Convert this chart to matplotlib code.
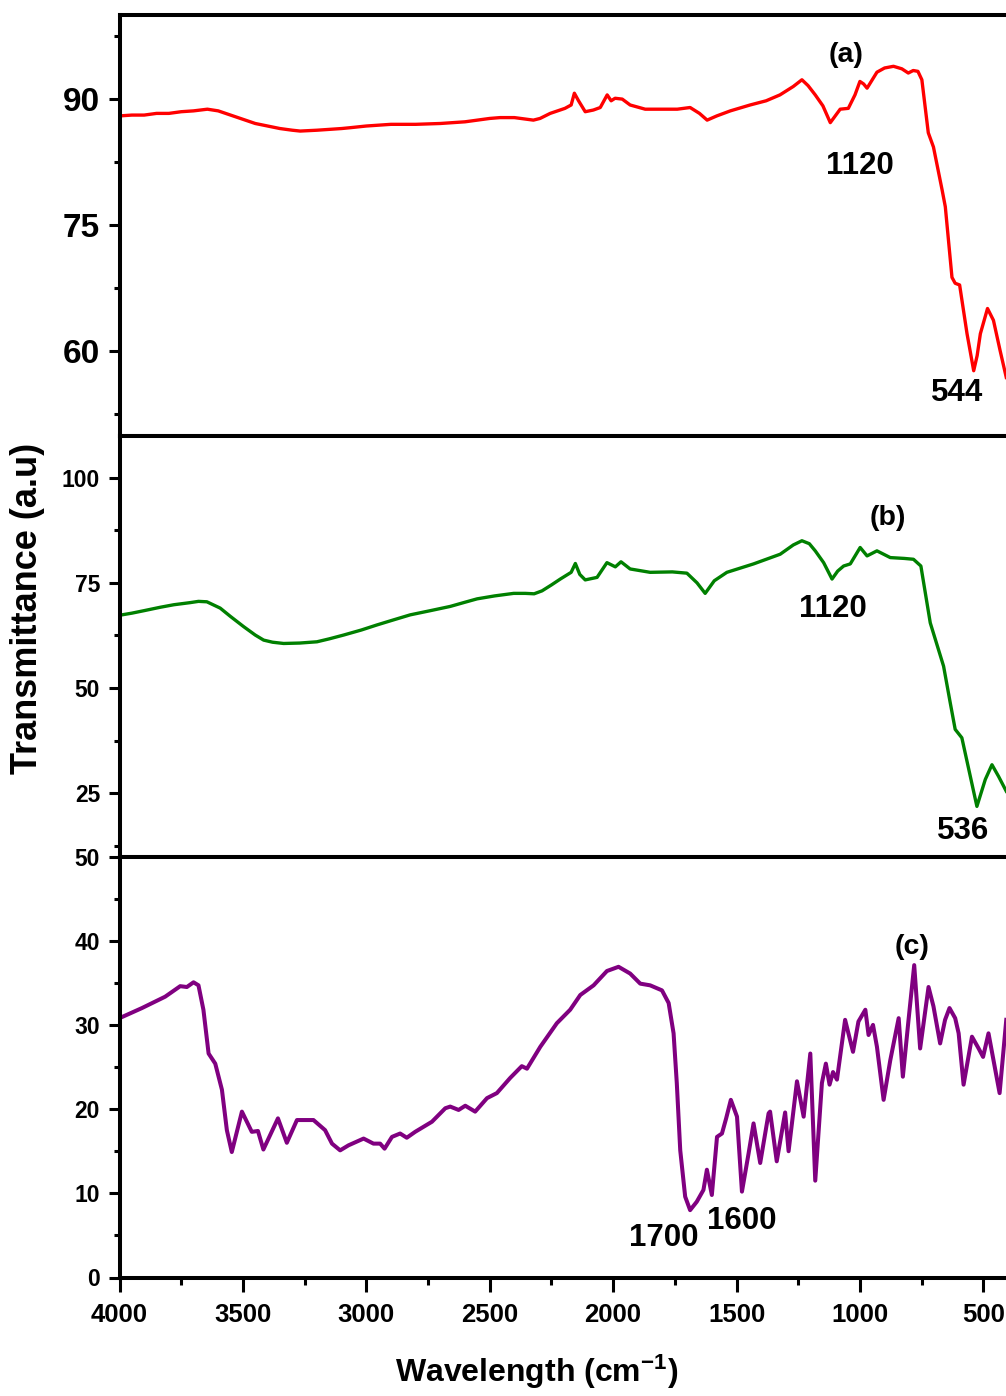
"""
FTIR spectra of three samples, stacked panels sharing the wavenumber axis
"""

import matplotlib
matplotlib.use("Agg")
import matplotlib.pyplot as plt
from matplotlib.ticker import MultipleLocator

plt.rcParams['font.family'] = ['Liberation Sans', 'DejaVu Sans']
plt.rcParams['font.weight'] = 'bold'
plt.rcParams['mathtext.fontset'] = 'custom'
plt.rcParams['mathtext.rm'] = 'Liberation Sans:bold'
plt.rcParams['mathtext.default'] = 'rm'

# (a) red spectrum
wn_a = [4000, 3950, 3900, 3850, 3800, 3750, 3700, 3644, 3600, 3550, 3500, 3450, 3400, 3350,
        3300, 3268, 3200, 3150, 3100, 3065, 3000, 2950, 2900, 2850, 2800, 2700, 2600, 2500,
        2458, 2400, 2323, 2296, 2255, 2195, 2170, 2157, 2140, 2113, 2080, 2052, 2024, 2008,
        1992, 1963, 1931, 1870, 1797, 1740, 1688, 1650, 1619, 1580, 1525, 1445, 1380, 1324,
        1270, 1235, 1210, 1181, 1150, 1120, 1095, 1080, 1047, 1020, 1000, 985, 971, 931, 900,
        864, 830, 804, 784, 765, 749, 723, 702, 667, 654, 627, 614, 596, 566, 539, 525, 512,
        483, 459, 432, 407]
tr_a = [88.0, 88.1, 88.1, 88.3, 88.3, 88.5, 88.6, 88.8, 88.6, 88.1, 87.6, 87.1, 86.8, 86.5,
        86.3, 86.2, 86.3, 86.4, 86.5, 86.6, 86.8, 86.9, 87.0, 87.0, 87.0, 87.1, 87.3, 87.7,
        87.8, 87.8, 87.5, 87.7, 88.3, 88.9, 89.3, 90.7, 89.8, 88.5, 88.7, 89.0, 90.5, 89.8,
        90.1, 90.0, 89.3, 88.8, 88.8, 88.8, 89.0, 88.3, 87.5, 88.0, 88.6, 89.3, 89.8, 90.5,
        91.5, 92.3, 91.6, 90.5, 89.2, 87.2, 88.2, 88.8, 88.9, 90.5, 92.1, 91.8, 91.3, 93.2, 93.7,
        93.9, 93.6, 93.1, 93.4, 93.3, 92.3, 86.0, 84.3, 79.2, 77.2, 68.8, 68.1, 67.9, 62.1, 57.7,
        59.5, 62.1, 65.1, 63.7, 60.1, 56.9]

# (b) green spectrum
wn_b = [4000, 3950, 3900, 3835, 3780, 3714, 3680, 3646, 3592, 3550, 3497, 3450, 3416, 3380,
        3335, 3270, 3200, 3150, 3092, 3020, 2957, 2890, 2822, 2740, 2660, 2600, 2551, 2480,
        2403, 2356, 2320, 2288, 2250, 2214, 2170, 2153, 2135, 2113, 2065, 2025, 1991, 1968,
        1931, 1850, 1760, 1701, 1660, 1627, 1590, 1539, 1431, 1323, 1270, 1235, 1205, 1181,
        1147, 1113, 1090, 1066, 1039, 999, 971, 931, 877, 820, 783, 753, 715, 661, 634, 614,
        587, 526, 492, 465, 438, 407]
tr_b = [67.3, 67.8, 68.4, 69.2, 69.8, 70.3, 70.6, 70.5, 69.0, 67.0, 64.6, 62.6, 61.4, 60.9,
        60.6, 60.7, 61.0, 61.7, 62.6, 63.8, 65.0, 66.2, 67.4, 68.4, 69.4, 70.4, 71.2, 71.9,
        72.5, 72.5, 72.4, 73.1, 74.5, 75.9, 77.5, 79.6, 77.0, 75.7, 76.3, 79.8, 78.8, 80.0,
        78.3, 77.5, 77.6, 77.3, 75.0, 72.5, 75.5, 77.5, 79.5, 81.8, 84.0, 85.0, 84.3, 82.6,
        79.8, 75.9, 77.8, 79.0, 79.5, 83.4, 81.4, 82.6, 81.0, 80.8, 80.6, 79.0, 65.5, 55.2, 46.5,
        40.2, 38.2, 21.9, 28.3, 31.8, 29.0, 25.5]

# (c) purple spectrum
wn_c = [4000, 3909, 3815, 3754, 3727, 3700, 3680, 3660, 3639, 3612, 3585, 3565, 3545, 3504,
        3464, 3439, 3417, 3358, 3322, 3281, 3214, 3167, 3139, 3106, 3072, 3011, 2971, 2944,
        2926, 2896, 2863, 2836, 2802, 2734, 2680, 2660, 2626, 2599, 2559, 2511, 2471, 2417,
        2370, 2349, 2295, 2228, 2174, 2133, 2079, 2025, 1978, 1931, 1890, 1850, 1802, 1775,
        1755, 1742, 1728, 1708, 1688, 1661, 1634, 1620, 1600, 1579, 1559, 1542, 1523, 1498,
        1478, 1451, 1431, 1404, 1370, 1364, 1337, 1303, 1289, 1255, 1228, 1201, 1181, 1154,
        1138, 1123, 1109, 1093, 1060, 1028, 1006, 978, 965, 947, 931, 904, 877, 843, 826, 803,
        780, 756, 722, 702, 675, 655, 637, 614, 600, 580, 546, 519, 501, 479, 434, 407]
tr_c = [30.8, 32.0, 33.35, 34.6, 34.5, 35.06, 34.7, 31.8, 26.6, 25.4, 22.3, 17.5, 14.9, 19.7,
        17.3, 17.4, 15.2, 18.9, 16.0, 18.7, 18.7, 17.5, 15.9, 15.1, 15.7, 16.5, 15.9, 15.9,
        15.3, 16.7, 17.1, 16.6, 17.3, 18.5, 20.1, 20.3, 19.9, 20.4, 19.7, 21.3, 21.9, 23.7,
        25.1, 24.8, 27.4, 30.2, 31.8, 33.55, 34.7, 36.4, 36.9, 36.1, 34.9, 34.7, 34.1, 32.6,
        29.0, 23.1, 15.1, 9.6, 8.0, 9.0, 10.4, 12.8, 9.8, 16.7, 17.1, 18.9, 21.1, 19.1,
        10.2, 14.75, 18.3, 13.6, 19.5, 19.7, 13.8, 19.6, 15.0, 23.3, 19.1, 26.6, 11.5, 23.1,
        25.4, 22.9, 24.4, 23.5, 30.6, 26.8, 30.4, 31.8, 28.8, 30.0, 27.4, 21.1, 25.8, 30.8, 23.85, 30.6,
        37.1, 27.2, 34.5, 32.2, 27.8, 30.6, 32.0, 30.8, 29.0, 22.9, 28.6, 27.2, 26.2, 29.0, 21.9, 30.6]

# peak labels: (wavenumber, value, text)
labels_a = [(1055, 95.2, "(a)"), (1001, 82.0, "1120"), (607, 55.0, "544")]
labels_b = [(887, 90.5, "(b)"), (1108, 68.7, "1120"), (583, 16.0, "536")]
labels_c = [(788, 39.3, "(c)"), (1793, 4.7, "1700"), (1477, 6.7, "1600")]

W, H = 1006, 1396
fig = plt.figure(figsize=(W / 100, H / 100), dpi=100)
left = 119.5 / W
width = (1008 - 119.5) / W


def make_ax(top_px, bot_px):
    return fig.add_axes([left, (H - bot_px) / H, width, (bot_px - top_px) / H])


ax_a = make_ax(15, 435.5)
ax_b = make_ax(435.5, 856.5)
ax_c = make_ax(856.5, 1277.5)

ax_a.plot(wn_a, tr_a, color='#ff0000', lw=2.4)
ax_b.plot(wn_b, tr_b, color='#008000', lw=2.4)
ax_c.plot(wn_c, tr_c, color='#800080', lw=2.9)

ax_a.set_ylim(50, 100)
ax_a.yaxis.set_major_locator(MultipleLocator(15))
ax_a.yaxis.set_minor_locator(MultipleLocator(7.5))
ax_b.set_ylim(10, 110)
ax_b.set_yticks([25, 50, 75, 100])
ax_b.yaxis.set_minor_locator(MultipleLocator(12.5))
ax_c.set_ylim(0, 50)
ax_c.yaxis.set_major_locator(MultipleLocator(10))
ax_c.yaxis.set_minor_locator(MultipleLocator(5))

for ax in (ax_a, ax_b, ax_c):
    ax.set_xlim(4000, 400)
    for s in ax.spines.values():
        s.set_linewidth(2.9)
    ax.tick_params(axis='y', which='major', direction='out', length=8, width=2.2, pad=6)
    ax.tick_params(axis='y', which='minor', direction='out', length=4.5, width=2.2)
    ax.tick_params(axis='x', which='both', bottom=False, top=False, labelbottom=False)

# top panel has larger, condensed-looking tick numbers
ax_a.tick_params(axis='y', labelsize=24)
ax_b.tick_params(axis='y', labelsize=16.5)
ax_c.tick_params(axis='y', labelsize=16.5)

ax_c.xaxis.set_major_locator(MultipleLocator(500))
ax_c.xaxis.set_minor_locator(MultipleLocator(250))
ax_c.tick_params(axis='x', which='major', bottom=True, labelbottom=True, direction='out',
                 length=10, width=2.2, pad=8, labelsize=18.5)
ax_c.tick_params(axis='x', which='minor', bottom=True, direction='out', length=5, width=2.2)

for ax, labs in ((ax_a, labels_a), (ax_b, labels_b), (ax_c, labels_c)):
    for x, y, t in labs:
        size = 20.5 if t.startswith("(") else 22.5
        ax.text(x, y, t, ha='center', va='center', fontsize=size, fontweight='bold')

fig.text(28 / W, 1 - 608 / H, "Transmittance (a.u)", rotation=90, ha='center', va='center',
         fontsize=26, fontweight='bold')
fig.text(537 / W, 1 - 1372 / H, r"Wavelength (cm$^{-1}$)", ha='center', va='center',
         fontsize=23, fontweight='bold')

fig.savefig("out.png", dpi=100)
